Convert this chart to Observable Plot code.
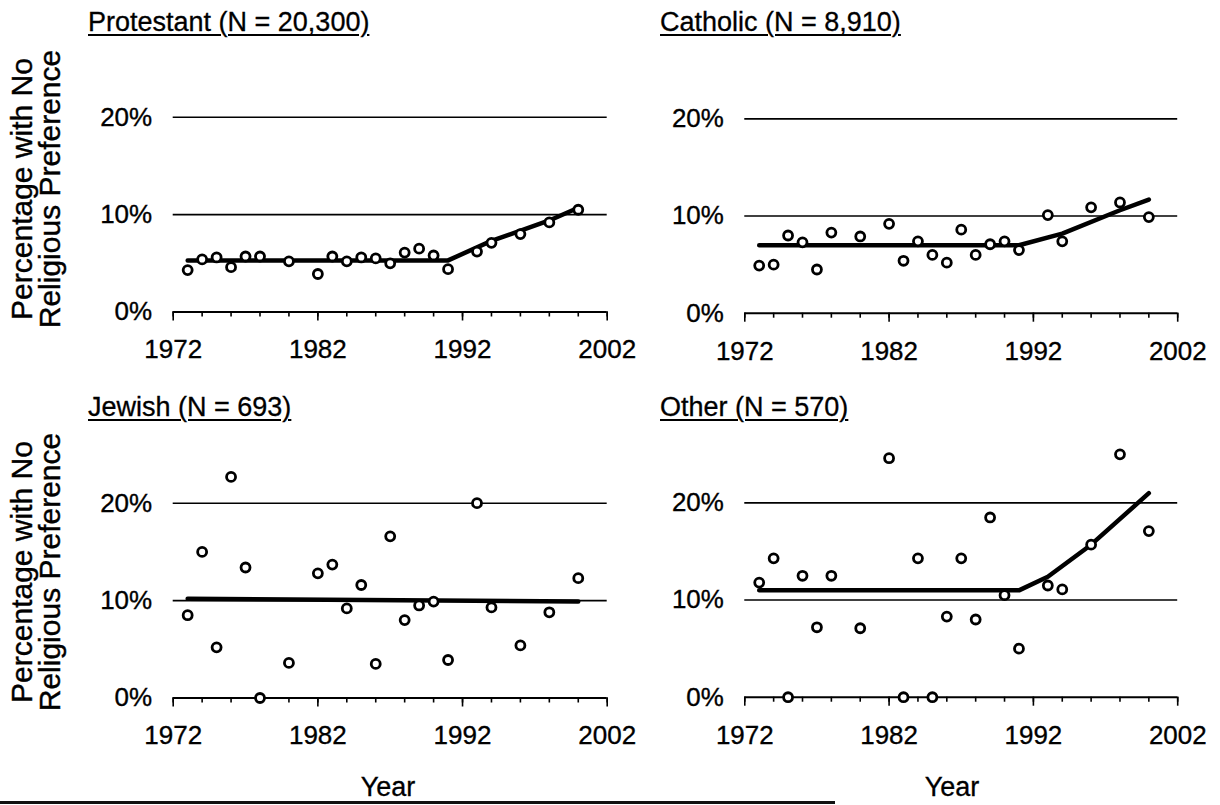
<!DOCTYPE html>
<html>
<head>
<meta charset="utf-8">
<script src="https://cdn.jsdelivr.net/npm/d3@7"></script>
<script src="https://cdn.jsdelivr.net/npm/@observablehq/plot@0.6"></script>
<style>
  html, body { margin: 0; padding: 0; background: #fff; }
  #root { position: relative; width: 1220px; height: 805px; overflow: hidden; background: #fff;
          font-family: 'Liberation Sans', Arial, sans-serif; color: #000; }
  .panel { position: absolute; }
  .panel svg text { stroke: #000; stroke-width: 0.35px; }
  .ptitle { position: absolute; font-size: 27px; line-height: 26px; text-decoration: underline;
            text-decoration-thickness: 2px; text-underline-offset: 3px; white-space: nowrap;
            -webkit-text-stroke: 0.3px #000; }
  .ytitle { position: absolute; width: 330px; height: 58px; font-size: 30px; line-height: 28px;
            text-align: center; transform: rotate(-90deg); white-space: nowrap;
            -webkit-text-stroke: 0.4px #000; }
  .xtitle { position: absolute; font-size: 27px; line-height: 26px; transform: translateX(-50%);
            -webkit-text-stroke: 0.3px #000; }
  .scanline { position: absolute; left: 0; top: 801px; width: 835px; height: 3px; background: #111; }
</style>
</head>
<body>
<div id="root"></div>
<script>
// ---- Data ----
const years = [1973, 1974, 1975, 1976, 1977, 1978, 1980, 1982, 1983, 1984, 1985,
               1986, 1987, 1988, 1989, 1990, 1991, 1993, 1994, 1996, 1998, 2000];

const protestant = [4.3, 5.4, 5.6, 4.6, 5.7, 5.7, 5.2, 3.9, 5.7, 5.2, 5.6,
                    5.5, 5.0, 6.1, 6.5, 5.8, 4.4, 6.2, 7.1, 8.0, 9.2, 10.5];
const catholic   = [4.9, 5.0, 8.0, 7.3, 4.5, 8.3, 7.9, 9.2, 5.4, 7.4, 6.0,
                    5.2, 8.6, 6.0, 7.1, 7.4, 6.5, 10.1, 7.4, 10.9, 11.4, 9.9];
const jewish     = [8.5, 15.0, 5.2, 22.7, 13.4, 0.0, 3.6, 12.8, 13.7, 9.2, 11.6,
                    3.5, 16.6, 8.0, 9.5, 9.9, 3.9, 20.0, 9.3, 5.4, 8.8, 12.3];
const other      = [11.8, 14.3, 0.0, 12.5, 7.2, 12.5, 7.1, 24.6, 0.0, 14.3, 0.0,
                    8.3, 14.3, 8.0, 18.5, 10.5, 5.0, 11.5, 11.1, 15.7, 25.0, 17.1];

// Fitted trend lines
const protTrendYears  = [1973, 1991, 1994, 1998, 2000];
const protTrendPct    = [5.3, 5.3, 7.3, 9.4, 10.7];
const cathTrendYears  = [1973, 1991, 1994, 1998, 2000];
const cathTrendPct    = [7.0, 7.0, 8.2, 10.6, 11.7];
const jewTrendYears   = [1973, 2000];
const jewTrendPct     = [10.2, 9.9];
const otherTrendYears = [1973, 1991, 1993, 1996, 2000];
const otherTrendPct   = [11.0, 11.0, 12.4, 15.7, 21.0];

const panelTitles = ["Protestant (N = 20,300)", "Catholic (N = 8,910)", "Jewish (N = 693)", "Other (N = 570)"];
const xTickLabels = [1972, 1982, 1992, 2002];
const xMinorTicks = d3.range(1972, 2003, 2);
const yTickValues = [0, 10, 20];
const gridValues  = [10, 20];
const yTitleLines = ["Percentage with No", "Religious Preference"];
const xTitle = "Year";

// ---- Drawing ----
function panel(vals, tYears, tPct) {
  const data = years.map((y, i) => ({year: y, pct: vals[i]}));
  const trend = tYears.map((y, i) => ({year: y, pct: tPct[i]}));
  return Plot.plot({
    width: 650, height: 385,
    marginLeft: 172.7, marginRight: 43.3, marginTop: 68, marginBottom: 73.5,
    style: {fontFamily: "'Liberation Sans', Arial, sans-serif", fontSize: "26px",
            color: "black", background: "transparent", overflow: "visible"},
    x: {domain: [1972, 2002], label: null},
    y: {domain: [0, 25], label: null},
    marks: [
      Plot.ruleY(gridValues, {stroke: "black", strokeWidth: 1.6}),
      Plot.axisX({ticks: xMinorTicks, tickSize: 5, tickFormat: () => "", strokeWidth: 1.6, label: null}),
      Plot.axisX({ticks: xTickLabels, tickSize: 9, tickPadding: 0, tickFormat: () => "", strokeWidth: 1.6, label: null}),
      Plot.axisX({ticks: xTickLabels, tickSize: 0, tickPadding: 28, tickFormat: d => String(d), label: null}),
      Plot.axisY({ticks: yTickValues, tickSize: 0, tickPadding: 21, tickFormat: d => d + "%", label: null}),
      Plot.ruleY([0], {stroke: "black", strokeWidth: 2}),
      Plot.line(trend, {x: "year", y: "pct", stroke: "black", strokeWidth: 4.5}),
      Plot.dot(data, {x: "year", y: "pct", r: 4.5, stroke: "black", strokeWidth: 2.8, fill: "white"})
    ]
  });
}

const root = document.getElementById("root");
const layout = [
  {vals: protestant, ty: protTrendYears, tp: protTrendPct, left: 0, top: 0, tl: 88, tt: 9},
  {vals: catholic, ty: cathTrendYears, tp: cathTrendPct, left: 571.6, top: 2, tl: 660, tt: 9},
  {vals: jewish, ty: jewTrendYears, tp: jewTrendPct, left: 0, top: 385.5, tl: 88, tt: 394},
  {vals: other, ty: otherTrendYears, tp: otherTrendPct, left: 571.6, top: 385.5, tl: 660, tt: 394}
];
layout.forEach((p, i) => {
  const wrap = document.createElement("div");
  wrap.className = "panel";
  wrap.style.left = p.left + "px";
  wrap.style.top = p.top + "px";
  wrap.appendChild(panel(p.vals, p.ty, p.tp));
  root.appendChild(wrap);
  const t = document.createElement("div");
  t.className = "ptitle";
  t.style.left = p.tl + "px";
  t.style.top = p.tt + "px";
  t.textContent = panelTitles[i];
  root.appendChild(t);
});

[189, 572].forEach(cy => {
  const d = document.createElement("div");
  d.className = "ytitle";
  d.style.left = (37 - 165) + "px";
  d.style.top = (cy - 29) + "px";
  d.innerHTML = yTitleLines.join("<br>");
  root.appendChild(d);
});

[388, 952].forEach(cx => {
  const d = document.createElement("div");
  d.className = "xtitle";
  d.style.left = cx + "px";
  d.style.top = "774px";
  d.textContent = xTitle;
  root.appendChild(d);
});

const s = document.createElement("div");
s.className = "scanline";
root.appendChild(s);
</script>
</body>
</html>
